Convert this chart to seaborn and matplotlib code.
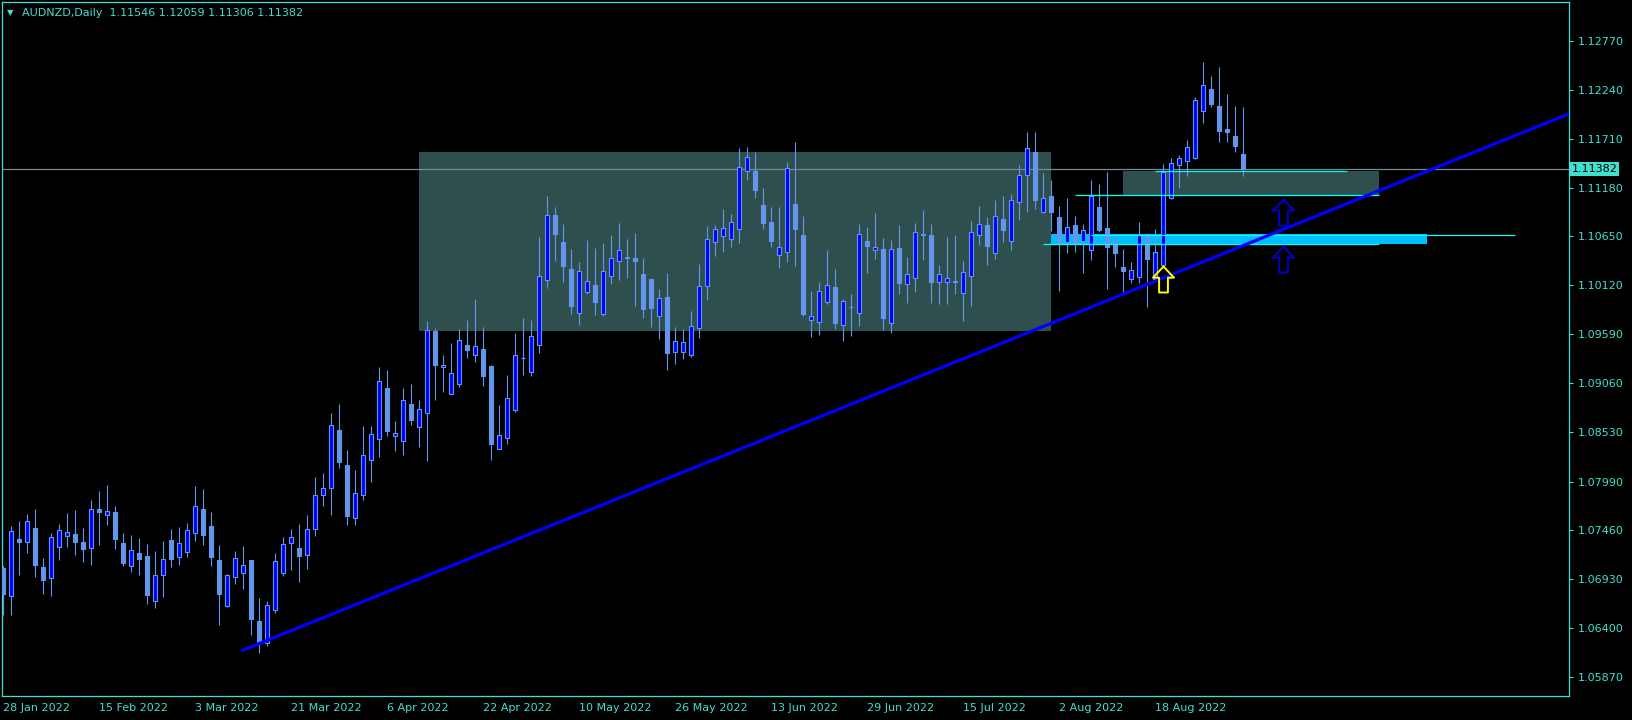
import numpy as np
import pandas as pd
import matplotlib
matplotlib.use("Agg")
import matplotlib.pyplot as plt
from matplotlib.path import Path
from matplotlib.patches import Rectangle
import seaborn as sns

# ---- data (AUDNZD daily) ----
symbol = "AUDNZD,Daily"
start_date = "2022-01-28"

open_ = [1.0705, 1.0675, 1.0737, 1.0733, 1.0749, 1.0706, 1.0694, 1.0728, 1.0740, 1.0742,
         1.0734, 1.0727, 1.0769, 1.0763, 1.0766, 1.0732, 1.0707, 1.0721, 1.0718, 1.0669,
         1.0698, 1.0736, 1.0717, 1.0723, 1.0743, 1.0769, 1.0751, 1.0714, 1.0664, 1.0696,
         1.0700, 1.0714, 1.0648, 1.0624, 1.0660, 1.0700, 1.0732, 1.0727, 1.0719, 1.0748,
         1.0785, 1.0792, 1.0855, 1.0817, 1.0760, 1.0785, 1.0822, 1.0845, 1.0901, 1.0849,
         1.0843, 1.0883, 1.0858, 1.0873, 1.0962, 1.0923, 1.0894, 1.0905, 1.0947, 1.0936,
         1.0943, 1.0924, 1.0834, 1.0846, 1.0877, 1.0933, 1.0918, 1.0947, 1.1018, 1.1088,
         1.1059, 1.1030, 1.0982, 1.1005, 1.1012, 1.0981, 1.1022, 1.1038, 1.1042, 1.1042,
         1.1024, 1.1019, 1.0979, 1.0999, 1.0940, 1.0940, 1.0936, 1.0966, 1.1011, 1.1059,
         1.1065, 1.1062, 1.1073, 1.1136, 1.1136, 1.1099, 1.1081, 1.1045, 1.1048, 1.1100,
         1.1067, 1.0974, 1.0972, 1.0994, 1.1010, 1.0969, 1.0988, 1.0982, 1.1060, 1.1050,
         1.1051, 1.0971, 1.1052, 1.1013, 1.1020, 1.1066, 1.1066, 1.1015, 1.1015, 1.1017,
         1.1004, 1.1022, 1.1066, 1.1077, 1.1047, 1.1084, 1.1060, 1.1102, 1.1132, 1.1157,
         1.1092, 1.1109, 1.1086, 1.1059, 1.1077, 1.1060, 1.1050, 1.1097, 1.1074, 1.1060,
         1.1032, 1.1019, 1.1021, 1.1066, 1.1019, 1.1034, 1.1107, 1.1142, 1.1147, 1.1150,
         1.1201, 1.1225, 1.1207, 1.1181, 1.1174, 1.11546]
high = [1.0707, 1.0751, 1.0756, 1.0764, 1.0769, 1.0716, 1.0743, 1.0753, 1.0765, 1.0768,
        1.0749, 1.0779, 1.0789, 1.0795, 1.0773, 1.0743, 1.0741, 1.0738, 1.0731, 1.0724,
        1.0735, 1.0748, 1.0750, 1.0754, 1.0794, 1.0791, 1.0766, 1.0730, 1.0699, 1.0724,
        1.0729, 1.0714, 1.0673, 1.0669, 1.0721, 1.0739, 1.0748, 1.0753, 1.0763, 1.0804,
        1.0808, 1.0873, 1.0883, 1.0833, 1.0812, 1.0859, 1.0859, 1.0923, 1.0920, 1.0865,
        1.0901, 1.0905, 1.0888, 1.0973, 1.0966, 1.0936, 1.0949, 1.0965, 1.0974, 1.0997,
        1.0967, 1.0926, 1.0882, 1.0915, 1.0960, 1.0977, 1.0974, 1.1064, 1.1109, 1.1097,
        1.1079, 1.1051, 1.1037, 1.1061, 1.1052, 1.1058, 1.1066, 1.1080, 1.1062, 1.1069,
        1.1042, 1.1019, 1.1008, 1.1025, 1.0967, 1.0965, 1.0984, 1.1035, 1.1076, 1.1077,
        1.1095, 1.1089, 1.1161, 1.1162, 1.1157, 1.1118, 1.1097, 1.1097, 1.1146, 1.1167,
        1.1087, 1.1006, 1.1015, 1.1050, 1.1030, 1.0997, 1.1002, 1.1078, 1.1075, 1.1090,
        1.1063, 1.1061, 1.1077, 1.1043, 1.1080, 1.1094, 1.1078, 1.1034, 1.1064, 1.1067,
        1.1038, 1.1082, 1.1098, 1.1086, 1.1105, 1.1109, 1.1111, 1.1143, 1.1178, 1.1178,
        1.1134, 1.1126, 1.1098, 1.1107, 1.1087, 1.1079, 1.1126, 1.1122, 1.1135, 1.1066,
        1.1051, 1.1037, 1.1081, 1.1069, 1.1073, 1.1144, 1.1150, 1.1153, 1.1170, 1.1216,
        1.1254, 1.1239, 1.1249, 1.1220, 1.1207, 1.12059]
low = [1.0654, 1.0654, 1.0698, 1.0722, 1.0696, 1.0677, 1.0675, 1.0714, 1.0728, 1.0719,
       1.0712, 1.0708, 1.0730, 1.0752, 1.0726, 1.0707, 1.0701, 1.0698, 1.0666, 1.0662,
       1.0674, 1.0706, 1.0708, 1.0717, 1.0735, 1.0730, 1.0707, 1.0643, 1.0663, 1.0688,
       1.0683, 1.0633, 1.0613, 1.0621, 1.0656, 1.0697, 1.0703, 1.0690, 1.0704, 1.0740,
       1.0772, 1.0763, 1.0814, 1.0752, 1.0752, 1.0779, 1.0799, 1.0826, 1.0849, 1.0832,
       1.0828, 1.0860, 1.0836, 1.0821, 1.0888, 1.0896, 1.0894, 1.0902, 1.0933, 1.0929,
       1.0903, 1.0822, 1.0834, 1.0840, 1.0874, 1.0915, 1.0914, 1.0939, 1.1009, 1.1038,
       1.1016, 1.0981, 1.0969, 1.1003, 1.0980, 1.0979, 1.1013, 1.1018, 1.1020, 1.0989,
       1.0977, 1.0967, 1.0954, 1.0920, 1.0927, 1.0932, 1.0934, 1.0955, 1.0996, 1.1044,
       1.1048, 1.1054, 1.1058, 1.1126, 1.1107, 1.1073, 1.1053, 1.1031, 1.1037, 1.1033,
       1.0979, 1.0956, 1.0958, 1.0992, 1.0965, 1.0951, 1.0957, 1.0968, 1.1025, 1.1041,
       1.0964, 1.0960, 1.1003, 1.0993, 1.1005, 1.1039, 1.0993, 1.0992, 1.0992, 1.1002,
       1.0973, 1.0990, 1.1056, 1.1034, 1.1040, 1.1059, 1.1050, 1.1083, 1.1092, 1.1095,
       1.1090, 1.1071, 1.1006, 1.1047, 1.1048, 1.1025, 1.1039, 1.1070, 1.1008, 1.1032,
       1.1005, 1.1014, 1.1014, 1.0988, 1.1018, 1.1033, 1.1106, 1.1118, 1.1130, 1.1149,
       1.1188, 1.1205, 1.1167, 1.1167, 1.1157, 1.11306]
close = [1.0677, 1.0745, 1.0733, 1.0756, 1.0709, 1.0692, 1.0739, 1.0747, 1.0744, 1.0733,
         1.0726, 1.0769, 1.0766, 1.0767, 1.0737, 1.0711, 1.0725, 1.0715, 1.0676, 1.0698,
         1.0715, 1.0715, 1.0732, 1.0746, 1.0773, 1.0741, 1.0717, 1.0677, 1.0698, 1.0716,
         1.0708, 1.0650, 1.0625, 1.0665, 1.0713, 1.0731, 1.0739, 1.0718, 1.0748, 1.0785,
         1.0792, 1.0860, 1.0820, 1.0762, 1.0787, 1.0828, 1.0851, 1.0908, 1.0854, 1.0852,
         1.0888, 1.0866, 1.0878, 1.0963, 1.0925, 1.0926, 1.0917, 1.0953, 1.0942, 1.0946,
         1.0914, 1.0840, 1.0850, 1.0890, 1.0936, 1.0933, 1.0957, 1.1022, 1.1088, 1.1068,
         1.1033, 1.0990, 1.1027, 1.1017, 1.0994, 1.1028, 1.1042, 1.1050, 1.1042, 1.1038,
         1.0986, 1.0987, 1.0998, 1.0939, 1.0951, 1.0950, 1.0968, 1.1011, 1.1062, 1.1073,
         1.1074, 1.1081, 1.1140, 1.1151, 1.1115, 1.1080, 1.1060, 1.1053, 1.1139, 1.1073,
         1.0981, 1.0979, 1.1006, 1.1012, 1.0971, 1.0995, 1.0988, 1.1068, 1.1055, 1.1054,
         1.0977, 1.1051, 1.1014, 1.1024, 1.1070, 1.1068, 1.1016, 1.1024, 1.1020, 1.1015,
         1.1026, 1.1070, 1.1078, 1.1055, 1.1087, 1.1072, 1.1104, 1.1132, 1.1161, 1.1105,
         1.1107, 1.1091, 1.1059, 1.1075, 1.1058, 1.1072, 1.1109, 1.1072, 1.1054, 1.1047,
         1.1028, 1.1029, 1.1067, 1.1040, 1.1048, 1.1135, 1.1145, 1.1150, 1.1162, 1.1213,
         1.1229, 1.1209, 1.1179, 1.1178, 1.1163, 1.11382]

date_labels = ["28 Jan 2022", "15 Feb 2022", "3 Mar 2022", "21 Mar 2022", "6 Apr 2022",
               "22 Apr 2022", "10 May 2022", "26 May 2022", "13 Jun 2022", "29 Jun 2022",
               "15 Jul 2022", "2 Aug 2022", "18 Aug 2022"]
price_ticks = [1.12770, 1.12240, 1.11710, 1.11180, 1.10650, 1.10120, 1.09590,
               1.09060, 1.08530, 1.07990, 1.07460, 1.06930, 1.06400, 1.05870]

# drawn objects (bar index, price)
range_box = (52, 131, 1.0962, 1.1157)
small_box = (140, 172, 1.1110, 1.1136)
support_band = (131, 178, 1.10565, 1.10673)
level_lines = [(144, 168, 1.1136), (134, 172, 1.1110), (136, 189, 1.1067), (130, 172, 1.10565)]
trend_x = [29.9, 195.7]
trend_y = [1.0616, 1.1198]
yellow_arrow = (145, 1.1019)
blue_arrows_x = [160, 160]
blue_arrows_y = [1.1091, 1.1040]

# ---- colours ----
BG = "black"
FG = "#40E0D0"
BULL = "#0000FF"
BEAR = "#6495ED"
ZONE = "#2F4F4F"

df = pd.DataFrame({"open": open_, "high": high, "low": low, "close": close})
df["date"] = pd.bdate_range(start_date, periods=len(df))
df["bar"] = np.arange(len(df))
bid = df["close"].iloc[-1]

sns.set_theme(style="dark", rc={"axes.facecolor": BG, "figure.facecolor": BG,
                                "axes.edgecolor": FG, "text.color": FG,
                                "xtick.color": FG, "ytick.color": FG})
plt.rcParams["font.family"] = ["DejaVu Sans"]

W, H = 1633, 720
fig = plt.figure(figsize=(W / 100, H / 100), dpi=100)
ax = fig.add_axes([2 / W, 24 / H, 1567 / W, 694 / H])

# background rectangles
for x0, x1, y0, y1 in [range_box, small_box]:
    ax.add_patch(Rectangle((x0, y0), x1 - x0, y1 - y0, facecolor=ZONE, edgecolor="none", zorder=1))
x0, x1, y0, y1 = support_band
ax.add_patch(Rectangle((x0, y0), x1 - x0, y1 - y0, facecolor="#00BFFF", edgecolor="none", zorder=1.5))

# bid line
ax.axhline(bid, color="#778899", lw=0.9, zorder=2)

# candles
bull = df["close"] >= df["open"]
ax.vlines(df["bar"], df["low"], df["high"], color=BEAR, lw=0.8, zorder=3)
body = (df["close"] - df["open"]).abs().clip(lower=0.00003)
ax.bar(df["bar"], body, bottom=df[["open", "close"]].min(axis=1), width=0.5,
       color=np.where(bull, BULL, BEAR), edgecolor=BEAR, linewidth=0.8, zorder=4)

# horizontal levels
for a, b, lvl in level_lines:
    ax.hlines(lvl, a, b, color="#00FFFF", lw=0.9, zorder=5)

# trend line
sns.lineplot(x=trend_x, y=trend_y, ax=ax, color="#0000FF", lw=2.3, zorder=6)

# up arrows
arrow = Path([(0, 0.5), (0.404, 0.07), (0.17, 0.07), (0.17, -0.5), (-0.17, -0.5),
              (-0.17, 0.07), (-0.404, 0.07), (0, 0.5)], closed=True)
ax.plot(blue_arrows_x, blue_arrows_y, ls="none", marker=arrow, markersize=18.7,
        mfc="none", mec="#0000CD", mew=1.4, zorder=7)
ax.plot([yellow_arrow[0]], [yellow_arrow[1]], ls="none", marker=arrow, markersize=18.7,
        mfc="none", mec="#FFFF00", mew=1.4, zorder=7)

ax.set_xlim(-0.16, 195.7)
ax.set_ylim(1.05664, 1.13193)
ax.grid(False)
for s in ax.spines.values():
    s.set_color(FG)
    s.set_linewidth(0.9)

# x axis: date labels
fmt = df["date"].dt.day.astype(str) + df["date"].dt.strftime(" %b %Y")
xpos = [int(df.index[fmt == lab][0]) for lab in date_labels]
ax.set_xticks(xpos)
ax.set_xticklabels(date_labels, ha="left", fontsize=8)
ax.tick_params(axis="x", length=3, width=0.8, pad=2, direction="out", colors=FG)

# y axis on the right
ax.yaxis.tick_right()
ax.set_yticks(price_ticks)
ax.set_yticklabels([f"{t:.5f}" for t in price_ticks], fontsize=8)
ax.tick_params(axis="y", length=3, width=0.8, pad=3, direction="out", colors=FG)
ax.set_xlabel("")
ax.set_ylabel("")

# current price box
ax.text(1.0015, bid, f"{bid:.5f}", transform=ax.get_yaxis_transform(), fontsize=8,
        color="black", va="center", ha="left", zorder=10, clip_on=False,
        bbox=dict(facecolor=FG, edgecolor="none", pad=1.6))

# header
fig.text(7 / W, 1 - 13 / H, "\u25bc", fontsize=6, color=FG, va="center", ha="left")
o, h, l, c = df.iloc[-1][["open", "high", "low", "close"]]
fig.text(22 / W, 1 - 13 / H, f"{symbol}  {o:.5f} {h:.5f} {l:.5f} {c:.5f}",
         fontsize=8, color=FG, va="center", ha="left")

fig.savefig("out.png", dpi=100, facecolor=BG)
